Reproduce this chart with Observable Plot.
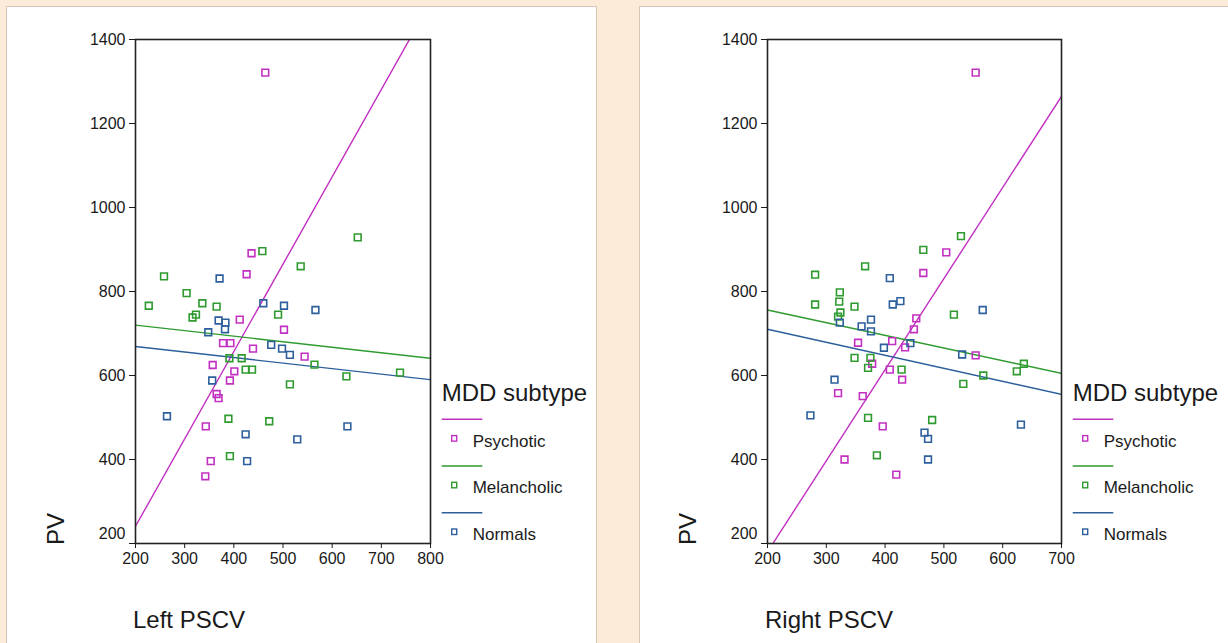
<!DOCTYPE html>
<html><head><meta charset="utf-8">
<script src="https://cdn.jsdelivr.net/npm/d3@7"></script>
<script src="https://cdn.jsdelivr.net/npm/@observablehq/plot@0.6"></script>
<style>
html,body{margin:0;padding:0;background:#fdebd9;}
#root{position:relative;width:1228px;height:643px;overflow:hidden;background:#fdebd9;font-family:"Liberation Sans",Arial,sans-serif;}
.panel{position:absolute;background:#fff;border:1px solid #d9c7b5;}
#root svg{position:absolute;}
</style></head><body><div id="root"></div>
<script>
const groups = ["Psychotic", "Melancholic", "Normals"];
const colors = ["#c230c2", "#2f9a2f", "#2c5f9c"];
const legendTitle = "MDD subtype";
const yLabel = "PV";
const yTicks = [200, 400, 600, 800, 1000, 1200, 1400];

// ---- Left panel (Left PSCV) ----
const leftXLabel = "Left PSCV";
const leftXTicks = [200, 300, 400, 500, 600, 700, 800];
const leftPsyX = [464, 436, 426, 412, 502, 378, 393, 439, 544, 357, 401, 392, 365, 369, 343, 353, 342];
const leftPsyY = [1321, 891, 841, 733, 709, 677, 677, 664, 645, 625, 610, 588, 556, 546, 479, 396, 360];
const leftMelX = [458, 536, 258, 304, 227, 336, 365, 323, 316, 490, 391, 416, 424, 437, 564, 514, 389, 472, 652, 629, 738, 392];
const leftMelY = [896, 860, 836, 796, 766, 772, 764, 745, 738, 745, 641, 641, 614, 614, 626, 579, 497, 491, 929, 598, 607, 408];
const leftNorX = [371, 460, 502, 566, 369, 383, 382, 348, 476, 498, 514, 356, 264, 424, 427, 529, 631];
const leftNorY = [831, 772, 766, 756, 731, 726, 710, 703, 673, 664, 649, 588, 503, 460, 396, 448, 479];
const leftFitAt200 = [241, 720, 669];
const leftFitSlope = [2.08, -0.1317, -0.1317];

// ---- Right panel (Right PSCV) ----
const rightXLabel = "Right PSCV";
const rightXTicks = [200, 300, 400, 500, 600, 700];
const rightPsyX = [554, 504, 465, 453, 449, 434, 554, 429, 412, 354, 378, 408, 320, 362, 396, 331, 419];
const rightPsyY = [1321, 893, 844, 736, 710, 667, 648, 590, 682, 678, 628, 614, 558, 551, 479, 400, 364];
const rightMelX = [465, 366, 281, 323, 322, 281, 348, 324, 320, 348, 375, 371, 428, 371, 480, 529, 517, 636, 624, 567, 533, 386];
const rightMelY = [899, 860, 840, 798, 776, 769, 764, 750, 740, 642, 642, 618, 614, 499, 494, 932, 745, 628, 610, 600, 580, 410];
const rightNorX = [408, 426, 413, 376, 323, 360, 376, 443, 398, 314, 273, 566, 531, 631, 467, 473, 473];
const rightNorY = [832, 777, 769, 733, 726, 717, 705, 677, 666, 590, 505, 756, 650, 483, 464, 449, 400];
const rightFitAt200 = [180, 756, 710];
const rightFitSlope = [2.169, -0.302, -0.31];

const root = document.getElementById("root");
const FONT = '"Liberation Sans", Arial, sans-serif';

function addPanel(left, width) {
  const d = document.createElement("div");
  d.className = "panel";
  d.style.left = left + "px"; d.style.top = "6px";
  d.style.width = width + "px"; d.style.height = "700px";
  root.appendChild(d);
}
addPanel(6, 589);
addPanel(639, 600);

function makePanel(cfg) {
  const xMin = cfg.xTicks[0], xMax = cfg.xTicks[cfg.xTicks.length - 1];
  const pts = [];
  groups.forEach((g, i) => cfg.xs[i].forEach((x, j) => pts.push({g, x, y: cfg.ys[i][j]})));
  const fits = groups.flatMap((g, i) => [
    {g, x: xMin, y: cfg.at200[i] + cfg.slope[i] * (xMin - 200)},
    {g, x: xMax, y: cfg.at200[i] + cfg.slope[i] * (xMax - 200)}
  ]);
  const yMin = yTicks[0];
  const svg = Plot.plot({
    width: cfg.width, height: 643,
    marginLeft: cfg.marginLeft, marginRight: cfg.marginRight, marginTop: 39, marginBottom: 100,
    style: {background: "transparent", fontFamily: FONT, fontSize: "16px", color: "#1a1a1a"},
    x: {domain: [xMin, xMax], label: null},
    y: {domain: [200, 1400], label: null},
    color: {domain: groups, range: colors},
    marks: [
      Plot.line(fits, {x: "x", y: "y", z: "g", stroke: "g", strokeWidth: 1.4, clip: true}),
      Plot.dot(pts, {x: "x", y: "y", stroke: "g", symbol: "square", r: 3.8, strokeWidth: 1.6}),
      Plot.frame({stroke: "#222", strokeWidth: 1.6}),
      Plot.axisX({ticks: cfg.xTicks, tickFormat: d => String(d), tickSize: 5, tickPadding: 4, fontSize: 16, label: null}),
      Plot.axisY({ticks: yTicks, tickFormat: d => (d === yMin ? "" : String(d)), tickSize: 6, tickPadding: 4, fontSize: 16, label: null}),
      Plot.axisY({ticks: [yMin], tickFormat: d => String(d), tickSize: 0, tickPadding: 10, fontSize: 16, dy: -10, label: null})
    ]
  });
  svg.style.left = cfg.left + "px";
  svg.style.top = "0px";
  root.appendChild(svg);

  // axis titles and legend overlay
  const ov = d3.select(root).append("svg")
    .attr("width", cfg.width).attr("height", 643)
    .style("left", cfg.left + "px").style("top", "0px")
    .style("font-family", FONT).style("pointer-events", "none");
  const plotLeft = cfg.marginLeft, plotRight = cfg.width - cfg.marginRight;
  ov.append("text").attr("transform", `translate(${plotLeft - 71},545) rotate(-90)`)
    .attr("font-size", 24).attr("fill", "#1a1a1a").text(yLabel);
  ov.append("text").attr("x", plotLeft - 2).attr("y", 628)
    .attr("font-size", 24).attr("fill", "#1a1a1a").text(cfg.xLabel);
  const lx = plotRight + 11.7;
  ov.append("text").attr("x", lx).attr("y", 400.7).attr("font-size", 24).attr("fill", "#1a1a1a").text(legendTitle);
  groups.forEach((g, i) => {
    const ly = 419.3 + i * 46.7;
    ov.append("line").attr("x1", lx).attr("x2", lx + 40.6).attr("y1", ly).attr("y2", ly)
      .attr("stroke", colors[i]).attr("stroke-width", 1.4);
    ov.append("rect").attr("x", lx + 10).attr("y", ly + 16.3).attr("width", 5).attr("height", 5.5)
      .attr("fill", "none").attr("stroke", colors[i]).attr("stroke-width", 1.4);
    ov.append("text").attr("x", lx + 31).attr("y", ly + 27.2).attr("font-size", 17).attr("fill", "#1a1a1a").text(g);
  });
}

makePanel({left: 0, width: 597, marginLeft: 135, marginRight: 167, xTicks: leftXTicks, xLabel: leftXLabel,
  xs: [leftPsyX, leftMelX, leftNorX], ys: [leftPsyY, leftMelY, leftNorY], at200: leftFitAt200, slope: leftFitSlope});
makePanel({left: 640, width: 588, marginLeft: 127, marginRight: 167, xTicks: rightXTicks, xLabel: rightXLabel,
  xs: [rightPsyX, rightMelX, rightNorX], ys: [rightPsyY, rightMelY, rightNorY], at200: rightFitAt200, slope: rightFitSlope});
</script></body></html>
